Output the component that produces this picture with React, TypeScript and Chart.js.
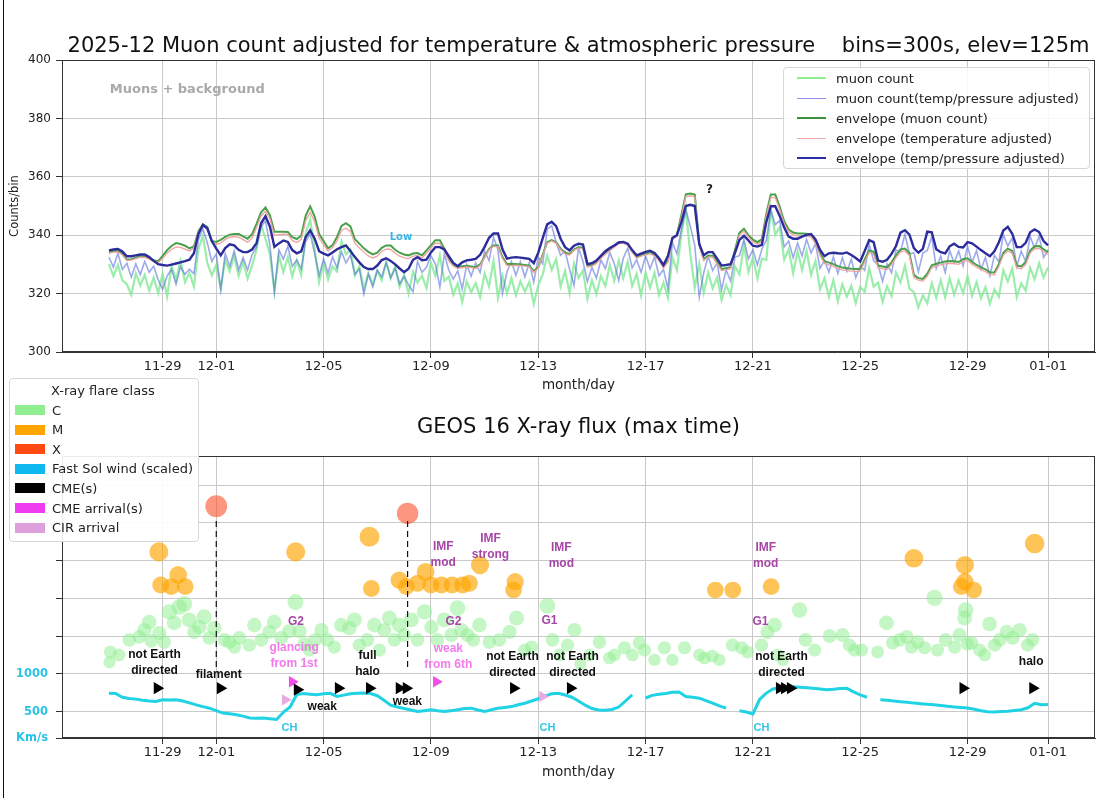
import React, { useEffect, useRef } from 'react';
import { Chart, registerables } from 'chart.js';

Chart.register(...registerables);

const SANS = "'DejaVu Sans', Verdana, sans-serif";
const ARIAL = "'Liberation Sans', Arial, sans-serif";

// Time base: all x values are days since 2025-11-27 00:00 UTC
const PERIOD_START = Date.UTC(2025, 10, 27);
const DAY_MS = 86400000;
const MUON_BIN_HOURS = 4;
const WIND_BIN_HOURS = 6;
const WIND_SCALE = 500; // km/s per flux-panel unit

const TICK_DATES = ['2025-11-29', '2025-12-01', '2025-12-05', '2025-12-09', '2025-12-13', '2025-12-17', '2025-12-21', '2025-12-25', '2025-12-29', '2026-01-01'];
const TICK_LABELS = ['11-29', '12-01', '12-05', '12-09', '12-13', '12-17', '12-21', '12-25', '12-29', '01-01'];

// ---- Muon panel (counts per 300 s bin, resampled to 4 h) ----
const MUON_RAW = [
  330.1, 326.0, 329.8, 324.5, 323.2, 319.5,
  327.0, 322.8, 326.4, 321.0, 325.5, 320.2,
  326.8, 319.0, 329.5, 324.7, 331.2, 323.9,
  327.1, 322.4, 335.2, 339.8, 330.5, 326.3,
  329.8, 322.0, 331.5, 327.6, 333.0, 326.1,
  330.9, 325.2, 329.6, 335.0, 343.6, 338.8,
  333.4, 321.0, 333.0, 327.4, 332.5, 325.8,
  331.2, 326.3, 340.8, 345.3, 335.2, 324.0,
  330.5, 324.8, 329.3, 327.6, 337.9, 333.5,
  335.1, 326.2, 329.3, 321.6, 327.0, 323.1,
  327.8, 324.5, 331.0, 325.2, 329.3, 322.4,
  326.4, 320.0, 327.5, 323.8, 326.2, 321.9,
  330.5, 326.1, 333.0, 324.3, 325.8, 319.6,
  323.5, 317.2, 324.1, 320.5, 323.6, 318.8,
  326.9, 322.4, 331.2, 318.5, 326.1, 320.0,
  325.3, 319.4, 324.2, 320.7, 324.0, 316.5,
  322.8, 326.6, 333.0, 328.1, 331.8, 322.5,
  327.8, 320.1, 330.4, 325.3, 327.9, 318.2,
  324.6, 319.8, 326.0, 322.6, 329.8, 324.4,
  331.3, 325.2, 330.9, 322.6, 326.7, 319.4,
  327.2, 322.0, 327.1, 319.5, 323.8, 318.6,
  332.5, 328.0, 340.2, 349.0, 333.5, 322.0,
  330.2, 320.3, 327.2, 321.8, 325.5, 317.8,
  322.9, 319.5, 329.3, 326.6, 336.7, 327.4,
  332.4, 325.2, 332.0, 331.5, 348.8, 340.1,
  342.8, 331.6, 335.2, 327.0, 334.5, 328.1,
  334.7, 326.4, 331.2, 321.5, 325.3, 318.9,
  324.6, 317.4, 323.2, 319.0, 322.6, 316.8,
  322.3, 320.5, 328.7, 322.4, 323.8, 317.2,
  322.5, 319.1, 327.2, 323.8, 329.6, 321.7,
  320.5, 315.3, 319.4, 316.7, 323.6, 318.5,
  324.5, 318.7, 325.3, 319.6, 324.5, 320.1,
  326.0, 319.2, 323.9, 318.4, 322.2, 316.5,
  321.4, 318.9, 328.0, 324.1, 328.6, 318.8,
  323.5, 321.0, 328.9, 324.9, 330.4, 325.5,
  329.0,
];

const MUON_ADJ = [
  332.5, 329.0, 333.8, 328.3, 330.4, 325.6,
  330.2, 326.5, 331.0, 327.3, 329.4, 324.8,
  321.5, 326.0, 328.3, 323.2, 329.2, 326.6,
  328.4, 326.8, 338.5, 342.2, 337.4, 331.0,
  333.6, 321.2, 333.7, 329.3, 334.6, 328.2,
  332.3, 328.1, 333.4, 336.0, 342.8, 344.9,
  336.5, 320.5, 335.0, 331.8, 336.2, 329.3,
  331.6, 328.5, 337.8, 340.5, 333.7, 326.2,
  331.9, 327.0, 332.6, 328.8, 334.3, 330.5,
  333.2, 326.6, 328.4, 319.9, 326.7, 322.3,
  328.1, 325.7, 330.6, 325.4, 328.7, 323.3,
  325.9, 323.0, 320.6, 331.0, 327.3, 329.0,
  333.0, 330.1, 322.2, 333.6, 328.0, 325.0,
  327.8, 321.6, 329.9, 326.0, 330.5, 327.2,
  334.6, 331.3, 339.2, 335.0, 320.0, 327.4,
  331.0, 326.2, 330.9, 325.7, 330.6, 323.9,
  332.5, 330.2, 342.0, 343.3, 337.5, 333.1,
  334.5, 328.4, 322.8, 335.7, 331.0, 324.1,
  329.0, 325.3, 331.5, 328.6, 334.1, 330.2,
  324.5, 332.0, 335.6, 328.8, 331.6, 327.3,
  332.9, 328.5, 332.6, 326.1, 328.3, 321.6,
  337.5, 333.6, 342.0, 348.7, 343.0, 336.5,
  318.8, 327.1, 332.8, 327.9, 330.5, 321.2,
  328.2, 324.3, 332.5, 333.0, 338.5, 331.9,
  335.0, 329.8, 335.2, 338.3, 348.5, 343.6,
  345.1, 336.0, 338.0, 332.3, 337.3, 332.9,
  338.6, 333.9, 337.2, 328.6, 331.4, 327.3,
  332.6, 326.9, 332.3, 327.6, 331.8, 325.5,
  329.5, 328.0, 336.9, 331.2, 329.8, 324.2,
  330.2, 327.1, 334.9, 334.3, 340.3, 333.6,
  334.1, 327.5, 333.9, 334.8, 339.6, 328.6,
  332.8, 327.3, 334.8, 330.5, 334.6, 329.5,
  336.2, 330.6, 334.7, 328.3, 332.4, 326.1,
  333.1, 330.9, 340.2, 336.3, 339.1, 329.3,
  334.5, 331.0, 339.6, 335.5, 339.7, 332.4,
  335.0,
];

const ENV_RAW = [
  334.2, 334.5, 334.7, 333.6, 331.6, 331.8,
  332.3, 332.9, 332.7, 332.2, 331.4, 331.0,
  332.9, 334.9, 336.3, 337.3, 337.0, 336.4,
  335.5, 336.2, 341.3, 343.7, 342.8, 338.0,
  337.7, 338.4, 339.4, 340.2, 340.4, 340.4,
  339.6, 338.8, 340.3, 343.9, 347.8, 349.5,
  346.8, 341.2, 341.2, 341.2, 341.1, 339.3,
  338.7, 339.8, 346.7, 349.9, 346.4, 340.4,
  338.0, 335.5, 336.6, 339.4, 343.2, 344.1,
  343.0, 338.6, 337.1, 335.5, 334.3, 333.4,
  334.0, 335.7, 336.5, 336.5, 335.0, 334.0,
  333.4, 333.1, 333.7, 333.9, 333.1, 334.8,
  336.5, 338.3, 338.3, 335.4, 332.0, 330.0,
  329.1, 329.4, 329.5, 329.3, 329.0, 330.0,
  332.6, 335.3, 336.5, 336.5, 332.5, 330.1,
  330.1, 330.1, 330.0, 329.8, 329.6, 327.7,
  329.0, 333.4, 337.6, 338.3, 337.6, 335.4,
  334.0, 333.6, 335.1, 335.9, 335.7, 329.5,
  329.8, 330.7, 332.5, 333.9, 335.1, 336.3,
  337.5, 337.7, 337.0, 334.5, 332.5, 333.2,
  333.7, 334.1, 333.3, 331.6, 329.2, 331.2,
  339.0, 340.0, 346.9, 354.0, 354.3, 353.9,
  337.0, 331.8, 333.0, 333.0, 330.7, 328.4,
  328.7, 329.0, 335.0, 340.8, 342.2, 340.0,
  338.5, 337.6, 338.6, 347.4, 353.9, 353.9,
  349.7, 344.8, 341.9, 340.9, 340.6, 340.6,
  340.5, 340.2, 337.9, 333.9, 331.1, 330.6,
  330.1, 329.4, 328.9, 328.7, 328.5, 328.4,
  328.4, 331.7, 334.8, 334.3, 329.6, 329.3,
  329.0, 330.7, 333.1, 335.1, 335.4, 333.8,
  326.4, 325.3, 325.0, 326.8, 329.7, 330.2,
  330.6, 331.0, 331.2, 331.1, 330.8, 331.8,
  332.1, 330.9, 329.8, 329.0, 328.3, 327.3,
  327.2, 330.1, 334.0, 335.4, 334.6, 329.6,
  329.3, 330.8, 334.7, 336.2, 336.3, 335.2,
  334.2,
];

const ENV_TEMP = [
  333.8, 334.2, 334.3, 333.2, 331.3, 331.5,
  332.0, 332.5, 332.4, 331.8, 331.0, 330.6,
  332.0, 333.9, 335.1, 336.0, 335.8, 335.2,
  334.6, 335.7, 341.0, 343.4, 342.5, 337.6,
  336.9, 337.3, 338.5, 339.3, 339.5, 339.3,
  338.5, 337.6, 339.0, 342.6, 346.6, 348.2,
  345.6, 339.9, 340.2, 340.4, 340.3, 338.2,
  337.5, 338.6, 345.0, 347.8, 344.6, 339.0,
  336.8, 334.6, 335.8, 338.0, 341.6, 342.4,
  341.3, 337.2, 335.6, 334.2, 332.9, 332.2,
  332.8, 334.5, 335.2, 335.1, 333.8, 332.8,
  332.2, 332.0, 332.8, 333.0, 332.2, 333.8,
  335.6, 337.3, 337.2, 334.6, 331.2, 329.4,
  328.6, 328.9, 329.1, 328.9, 328.6, 329.6,
  332.3, 335.0, 336.2, 336.1, 332.0, 329.6,
  329.6, 329.7, 329.6, 329.4, 329.2, 327.3,
  328.7, 333.1, 337.3, 338.0, 337.3, 335.0,
  333.6, 333.2, 334.8, 335.6, 335.4, 329.1,
  329.4, 330.3, 332.1, 333.5, 334.7, 335.9,
  337.1, 337.3, 336.6, 334.1, 332.1, 332.8,
  333.3, 333.7, 332.9, 331.2, 328.8, 330.8,
  338.6, 339.6, 346.3, 353.2, 353.5, 353.1,
  336.4, 331.3, 332.5, 332.5, 330.2, 327.9,
  328.2, 328.5, 334.4, 340.0, 341.4, 339.3,
  337.8, 336.9, 337.9, 346.6, 352.9, 352.9,
  348.8, 343.9, 341.1, 340.1, 339.8, 339.8,
  339.7, 339.4, 337.1, 333.1, 330.3, 329.8,
  329.3, 328.6, 328.1, 327.9, 327.7, 327.6,
  327.6, 330.9, 334.0, 333.5, 328.8, 328.5,
  328.2, 329.9, 332.3, 334.3, 334.6, 333.0,
  325.6, 324.6, 324.3, 326.0, 328.9, 329.4,
  329.8, 330.2, 330.4, 330.3, 330.0, 331.0,
  331.3, 330.1, 329.0, 328.2, 327.5, 326.5,
  326.4, 329.3, 333.2, 334.6, 333.8, 328.8,
  328.5, 330.0, 333.9, 335.4, 335.5, 334.4,
  333.4,
];

const ENV_TP = [
  334.8, 335.1, 335.3, 334.4, 332.8, 332.8,
  333.1, 333.4, 333.4, 332.5, 331.2, 330.1,
  329.8, 329.6, 329.9, 330.3, 330.7, 331.1,
  331.6, 333.8, 340.4, 343.5, 342.3, 338.0,
  335.4, 333.1, 335.6, 336.9, 336.5, 335.0,
  334.2, 334.2, 335.1, 337.3, 344.0, 346.5,
  342.9, 336.0, 337.2, 338.2, 337.7, 334.9,
  333.8, 334.5, 339.4, 341.7, 338.8, 334.5,
  333.7, 333.1, 334.1, 335.2, 335.9, 336.5,
  334.6, 332.5, 330.7, 329.1, 328.4, 328.4,
  329.6, 331.5, 332.1, 331.2, 330.0, 328.6,
  327.3, 328.5, 331.6, 332.5, 331.4, 331.6,
  334.1, 335.9, 335.9, 335.1, 332.8, 330.5,
  329.4, 330.7, 331.4, 331.6, 331.9, 333.3,
  336.0, 339.1, 340.6, 340.6, 335.2, 332.0,
  332.3, 332.5, 332.3, 332.1, 331.9, 330.4,
  334.0, 339.0, 343.7, 344.6, 343.1, 338.8,
  335.9, 334.8, 336.4, 337.1, 336.8, 330.1,
  330.4, 331.3, 332.9, 334.5, 335.6, 336.5,
  337.5, 337.7, 337.1, 334.9, 333.1, 333.7,
  334.3, 334.7, 333.9, 332.1, 329.8, 332.9,
  339.0, 340.0, 344.5, 350.0, 350.4, 350.0,
  337.0, 333.1, 334.2, 334.2, 332.0, 329.6,
  329.8, 330.1, 334.0, 338.4, 339.8, 338.2,
  336.4, 336.1, 336.7, 344.5, 349.9, 349.9,
  346.6, 342.6, 339.5, 338.8, 338.8, 339.5,
  340.1, 340.4, 338.6, 335.0, 332.8, 333.8,
  334.0, 333.8, 333.7, 334.1, 333.2, 332.2,
  331.0, 334.6, 338.3, 337.6, 331.3, 330.9,
  331.6, 333.6, 336.3, 340.9, 341.7, 340.2,
  335.6, 334.0, 335.3, 341.2, 341.0, 335.2,
  334.2, 333.8, 336.2, 337.1, 336.0, 335.8,
  337.6, 337.2, 336.1, 334.9, 333.8, 332.8,
  334.5, 337.6, 341.6, 342.9, 340.5, 335.9,
  335.9, 337.4, 341.0, 342.0, 341.1, 338.0,
  336.5,
];

// ---- Solar panel ----
// Solar wind speed, km/s, 6 h bins (null = data gap)
const WIND_KMS = [
  744, 740, 690, 672,
  665, 650, 640, 635,
  655, 652, 655, 640,
  615, 588, 565, 545,
  512, 480, 470, 458,
  440, 415, 412, 414,
  405, 395, 490, 560,
  725, 740, 730, 722,
  735, 742, 700, 718,
  735, 743, 745, 740,
  710, 650, 585, 560,
  540, 520, 500, 512,
  523, 510, 500, 512,
  525, 540, 545, 520,
  500, 525, 545, 555,
  566, 590, 611, 640,
  670, 705, 735, 742,
  720, 690, 640, 585,
  540, 520, 518, 528,
  560, 640, 720, null,
  680, 715, 730, 740,
  755, 760, 700, 690,
  677, 645, 612, 575,
  545, null, 510, 495,
  470, 660, 745, 800,
  815, 825, 830, 822,
  815, 808, 800, 790,
  795, 805, 808, 760,
  720, 690, null, 655,
  650, 640, 630, 622,
  612, 605, 596, 589,
  580, 570, 562, 555,
  546, 530, 510, 498,
  495, 500, 505, 515,
  525, 550, 610, 590,
  595,
];

// Flares: [day, peak flux level on the panel's axis]
const C_FLARES = [
  [0.05, 2.58], [0.02, 2.31], [0.38, 2.50], [0.76, 2.90], [1.13, 2.98], [1.32, 3.16], [1.50, 3.37], [1.58, 2.87],
  [1.88, 3.08], [2.06, 2.84], [2.25, 3.64], [2.43, 3.35], [2.62, 3.77], [2.81, 3.85], [2.99, 3.43], [3.18, 3.11],
  [3.37, 3.24], [3.55, 3.51], [3.74, 2.95], [3.93, 3.21], [4.30, 2.90], [4.49, 2.84], [4.68, 2.71], [4.86, 2.95],
  [5.23, 2.76], [5.42, 3.29], [5.68, 2.90], [5.98, 3.11], [6.16, 3.37], [6.42, 2.95], [6.72, 3.13], [6.95, 3.90],
  [7.10, 3.13], [7.28, 2.79], [7.47, 2.63], [7.69, 2.90], [7.92, 3.16], [8.14, 2.90], [8.40, 2.71], [8.66, 3.29],
  [8.96, 3.21], [9.15, 3.43], [9.33, 2.76], [9.63, 2.90], [9.89, 3.29], [10.08, 2.63], [10.26, 3.16], [10.45, 3.48],
  [10.64, 2.90], [10.82, 3.29], [11.01, 3.03], [11.27, 3.43], [11.50, 2.90], [11.76, 3.64], [12.02, 3.24], [12.24, 2.90],
  [12.50, 3.43], [12.76, 3.03], [12.99, 3.74], [13.14, 3.16], [13.36, 3.03], [13.58, 2.90], [13.81, 3.29], [14.18, 2.84],
  [14.55, 2.90], [14.93, 3.11], [15.19, 3.48], [15.49, 2.63], [15.75, 2.71], [16.34, 3.80], [16.53, 2.90], [16.79, 2.50],
  [17.09, 2.76], [17.35, 3.16], [17.57, 2.26], [17.91, 2.50], [18.28, 2.84], [18.65, 2.42], [18.84, 2.50], [19.21, 2.69],
  [19.51, 2.50], [19.77, 2.82], [19.96, 2.63], [20.33, 2.37], [20.70, 2.69], [21.00, 2.37], [21.45, 2.69], [22.01, 2.50],
  [22.20, 2.42], [22.49, 2.47], [22.75, 2.37], [23.24, 2.76], [23.58, 2.69], [23.80, 2.58], [24.32, 2.76], [24.54, 3.11],
  [24.81, 3.29], [24.92, 2.50], [25.11, 2.37], [25.74, 3.69], [25.96, 2.90], [26.30, 2.63], [26.86, 3.00], [27.34, 3.03],
  [27.60, 2.76], [27.79, 2.63], [28.05, 2.63], [28.65, 2.58], [28.98, 3.35], [29.21, 2.82], [29.47, 2.90], [29.73, 2.98],
  [29.91, 2.71], [30.14, 2.84], [30.40, 2.69], [30.77, 4.01], [30.88, 2.63], [31.18, 2.90], [31.52, 2.71], [31.70, 3.03],
  [31.89, 3.48], [31.93, 3.69], [32.00, 2.79], [32.15, 2.82], [32.45, 2.63], [32.64, 2.50], [32.82, 3.32], [33.01, 2.76],
  [33.20, 2.90], [33.46, 3.11], [33.68, 2.95], [33.94, 3.16], [34.24, 2.76], [34.42, 2.90],
];

const M_FLARES = [
  [1.86, 5.23], [1.93, 4.35], [2.32, 4.31], [2.58, 4.62], [2.84, 4.31], [6.96, 5.23], [9.71, 5.63], [9.78, 4.26],
  [10.82, 4.48], [11.08, 4.31], [11.50, 4.40], [11.80, 4.70], [12.00, 4.35], [12.39, 4.35], [12.79, 4.35], [13.18, 4.35],
  [13.43, 4.40], [13.83, 4.88], [15.08, 4.22], [15.14, 4.44], [22.60, 4.22], [23.25, 4.22], [24.68, 4.31], [30.00, 5.06],
  [31.77, 4.31], [31.90, 4.44], [31.90, 4.88], [32.23, 4.22], [34.50, 5.45],
];

const X_FLARES = [[4.00, 6.44], [11.13, 6.25]];

// CME launches, arrivals and CIR arrivals: [day, marker row]
const CMES = [
  [1.80, 1.62], [4.15, 1.62], [7.02, 1.58], [8.55, 1.62], [9.71, 1.62], [10.82, 1.62], [11.08, 1.62],
  [15.08, 1.62], [17.20, 1.62], [24.99, 1.62], [25.18, 1.62], [25.40, 1.62], [31.83, 1.62], [34.43, 1.62],
];
const CME_ARRIVALS = [[6.83, 1.79], [12.20, 1.79]];
const CIR_ARRIVALS = [[6.57, 1.31], [16.16, 1.40]];

const FLUX_AXIS_MIN = 0.3;
const FLUX_AXIS_MAX = 7.77;

type Note = { t: number; v: number; text: string; font: string; color: string; align?: CanvasTextAlign };

const BLACK_FONT = `bold 12px ${ARIAL}`;
const TOP_NOTES: Note[] = [
  { t: 0.03, v: 389.8, text: 'Muons + background', font: `bold 13px ${SANS}`, color: '#a9a9a9', align: 'left' },
  { t: 10.88, v: 339.4, text: 'Low', font: `bold 10px ${SANS}`, color: '#38b6e6' },
  { t: 22.38, v: 355.6, text: '?', font: `bold 12px ${SANS}`, color: '#222' },
];

const SOLAR_NOTES: Note[] = [
  { t: 1.70, v: 2.29, text: 'not Earth\ndirected', font: BLACK_FONT, color: '#111' },
  { t: 4.09, v: 1.97, text: 'filament', font: BLACK_FONT, color: '#111' },
  { t: 9.64, v: 2.26, text: 'full\nhalo', font: BLACK_FONT, color: '#111' },
  { t: 7.95, v: 1.13, text: 'weak', font: BLACK_FONT, color: '#111' },
  { t: 11.12, v: 1.26, text: 'weak', font: BLACK_FONT, color: '#111' },
  { t: 15.04, v: 2.24, text: 'not Earth\ndirected', font: BLACK_FONT, color: '#111' },
  { t: 17.28, v: 2.24, text: 'not Earth\ndirected', font: BLACK_FONT, color: '#111' },
  { t: 25.07, v: 2.24, text: 'not Earth\ndirected', font: BLACK_FONT, color: '#111' },
  { t: 34.37, v: 2.31, text: 'halo', font: BLACK_FONT, color: '#111' },
  { t: 6.90, v: 2.47, text: 'glancing\nfrom 1st', font: BLACK_FONT, color: '#f27aea' },
  { t: 12.65, v: 2.46, text: 'weak\nfrom 6th', font: BLACK_FONT, color: '#f27aea' },
  { t: 6.97, v: 3.38, text: 'G2', font: BLACK_FONT, color: '#a646a6' },
  { t: 12.84, v: 3.38, text: 'G2', font: BLACK_FONT, color: '#a646a6' },
  { t: 16.42, v: 3.40, text: 'G1', font: BLACK_FONT, color: '#a646a6' },
  { t: 24.28, v: 3.38, text: 'G1', font: BLACK_FONT, color: '#a646a6' },
  { t: 12.46, v: 5.15, text: 'IMF\nmod', font: BLACK_FONT, color: '#a646a6' },
  { t: 14.22, v: 5.38, text: 'IMF\nstrong', font: BLACK_FONT, color: '#a646a6' },
  { t: 16.86, v: 5.12, text: 'IMF\nmod', font: BLACK_FONT, color: '#a646a6' },
  { t: 24.48, v: 5.12, text: 'IMF\nmod', font: BLACK_FONT, color: '#a646a6' },
  { t: 6.73, v: 0.57, text: 'CH', font: `bold 11px ${ARIAL}`, color: '#2ec8e8' },
  { t: 16.34, v: 0.57, text: 'CH', font: `bold 11px ${ARIAL}`, color: '#2ec8e8' },
  { t: 24.32, v: 0.57, text: 'CH', font: `bold 11px ${ARIAL}`, color: '#2ec8e8' },
];

const MUON_STYLE = {
  raw: { label: 'muon count', line: 'rgba(130,232,150,0.8)', key: '#90ee90', width: 2.2 },
  adj: { label: 'muon count(temp/pressure adjusted)', line: 'rgba(75,100,215,0.55)', key: '#8f8fe6', width: 1.6 },
  envRaw: { label: 'envelope (muon count)', line: '#48a048', key: '#3d8f3d', width: 2 },
  envTemp: { label: 'envelope (temperature adjusted)', line: '#f0a2a2', key: '#f0a8a8', width: 1.3 },
  envTP: { label: 'envelope (temp/pressure adjusted)', line: '#2c2c9c', key: '#2c2ca8', width: 2.4 },
};
const MUON_LEGEND = [MUON_STYLE.raw, MUON_STYLE.adj, MUON_STYLE.envRaw, MUON_STYLE.envTemp, MUON_STYLE.envTP];

const SOLAR_LEGEND = [
  { label: 'C', color: '#90ee90' },
  { label: 'M', color: '#ffa500' },
  { label: 'X', color: '#ff4a12' },
  { label: 'Fast Sol wind (scaled)', color: '#0fb9ef' },
  { label: 'CME(s)', color: '#000000' },
  { label: 'CME arrival(s)', color: '#f03cf0' },
  { label: 'CIR arrival', color: '#dda0dd' },
];

const dayOf = (iso: string) => (Date.parse(iso + 'T00:00:00Z') - PERIOD_START) / DAY_MS;

const binned = (vals: (number | null)[], hours: number, per = 1) =>
  vals.map((v, i) => ({ x: (i * hours) / 24, y: v == null ? null : v / per }));

const pairs = (list: number[][]) => list.map(([t, v]) => ({ x: t, y: v }));

const GRID = { color: '#c9c9c9', lineWidth: 1, tickColor: '#333', tickLength: 6 };
const BORDER = { color: '#333', width: 1 };

function timeAxis(height: number, titlePad: number) {
  return {
    type: 'linear',
    min: -1.75,
    max: 36.75,
    afterBuildTicks: (s: any) => {
      s.ticks = TICK_DATES.map((d) => ({ value: dayOf(d) }));
    },
    afterFit: (s: any) => {
      s.height = height;
    },
    ticks: {
      autoSkip: false,
      maxRotation: 0,
      padding: 1,
      color: '#222',
      font: { family: SANS, size: 13 },
      callback: (_v: any, i: number) => TICK_LABELS[i],
    },
    grid: GRID,
    border: BORDER,
    title: {
      display: true,
      text: 'month/day',
      color: '#222',
      font: { family: SANS, size: 13.5 },
      padding: { top: 0, bottom: titlePad },
    },
  };
}

function framePlugin(title: string, baseline: number) {
  return {
    id: 'frameTitle',
    afterDraw(chart: any) {
      const { ctx, chartArea: a } = chart;
      ctx.save();
      ctx.strokeStyle = '#333';
      ctx.lineWidth = 1;
      ctx.strokeRect(a.left + 0.5, a.top + 0.5, a.right - a.left - 1, a.bottom - a.top - 1);
      ctx.fillStyle = '#111';
      ctx.font = `21px ${SANS}`;
      ctx.textAlign = 'center';
      ctx.textBaseline = 'alphabetic';
      ctx.fillText(title, (a.left + a.right) / 2, baseline);
      ctx.restore();
    },
  };
}

function notesPlugin(notes: Note[]) {
  return {
    id: 'notes',
    afterDatasetsDraw(chart: any) {
      const { ctx, scales } = chart;
      ctx.save();
      ctx.textBaseline = 'middle';
      for (const n of notes) {
        const px = scales.x.getPixelForValue(n.t);
        const py = scales.y.getPixelForValue(n.v);
        ctx.font = n.font;
        ctx.fillStyle = n.color;
        ctx.textAlign = n.align || 'center';
        const lines = n.text.split('\n');
        lines.forEach((ln, i) => ctx.fillText(ln, px, py + (i - (lines.length - 1) / 2) * 16));
      }
      ctx.restore();
    },
  };
}

const COMMON = {
  responsive: false,
  maintainAspectRatio: false,
  animation: false,
  devicePixelRatio: 1,
  events: [],
};

function muonConfig(): any {
  const line = (style: any, vals: number[], order: number) => ({
    label: style.label,
    data: binned(vals, MUON_BIN_HOURS),
    borderColor: style.line,
    borderWidth: style.width,
    pointRadius: 0,
    tension: 0,
    fill: false,
    order,
  });
  return {
    type: 'line',
    data: {
      datasets: [
        line(MUON_STYLE.envTP, ENV_TP, 1),
        line(MUON_STYLE.envTemp, ENV_TEMP, 2),
        line(MUON_STYLE.envRaw, ENV_RAW, 3),
        line(MUON_STYLE.adj, MUON_ADJ, 4),
        line(MUON_STYLE.raw, MUON_RAW, 5),
      ],
    },
    options: {
      ...COMMON,
      layout: { autoPadding: false, padding: { top: 60, right: 2, left: 0, bottom: 0 } },
      plugins: { legend: { display: false }, tooltip: { enabled: false } },
      scales: {
        x: timeAxis(48, 6.5),
        y: {
          min: 300,
          max: 400,
          afterFit: (s: any) => {
            s.width = 62;
          },
          ticks: { stepSize: 20, padding: 5, color: '#222', font: { family: SANS, size: 12 } },
          grid: GRID,
          border: BORDER,
          title: { display: true, text: 'Counts/bin', color: '#222', font: { family: SANS, size: 11.5 }, padding: { top: 8, bottom: 0 } },
        },
      },
    },
    plugins: [
      framePlugin('2025-12 Muon count adjusted for temperature & atmospheric pressure    bins=300s, elev=125m', 51.7),
      notesPlugin(TOP_NOTES),
    ],
  };
}

// Marker size grows with flare flux level
const flareRadius = (ctx: any) => 3.5 + 1.15 * (ctx.raw ? ctx.raw.y : 3);

function solarConfig(): any {
  const dashed = X_FLARES.map(([t]) => ({
    type: 'line',
    data: [
      { x: t, y: 6.05 },
      { x: t, y: 2.15 },
    ],
    borderColor: '#111',
    borderWidth: 1.2,
    borderDash: [6, 4],
    pointRadius: 0,
    showLine: true,
    fill: false,
    order: 2,
  }));
  const marks = (data: number[][], color: string, radius: number, order: number) => ({
    type: 'scatter',
    data: pairs(data),
    pointStyle: 'triangle',
    rotation: 90,
    pointRadius: radius,
    backgroundColor: color,
    borderWidth: 0,
    order,
  });
  const flares = (data: number[][], color: string, order: number) => ({
    type: 'scatter',
    data: pairs(data),
    pointRadius: flareRadius,
    backgroundColor: color,
    borderWidth: 0,
    order,
  });
  return {
    type: 'scatter',
    data: {
      datasets: [
        marks(CMES, '#000', 7, 0),
        marks(CME_ARRIVALS, '#ef4fe8', 6.5, 0),
        marks(CIR_ARRIVALS, '#e9a9e3', 6.5, 0),
        ...dashed,
        {
          type: 'line',
          label: 'Fast Sol wind (scaled)',
          data: binned(WIND_KMS, WIND_BIN_HOURS, WIND_SCALE),
          borderColor: '#1fd2e4',
          borderWidth: 3,
          pointRadius: 0,
          showLine: true,
          spanGaps: false,
          fill: false,
          tension: 0,
          order: 3,
        },
        flares(X_FLARES, 'rgba(250,80,40,0.6)', 4),
        flares(M_FLARES, 'rgba(255,165,0,0.66)', 5),
        flares(C_FLARES, 'rgba(144,238,144,0.52)', 6),
      ],
    },
    options: {
      ...COMMON,
      layout: { autoPadding: false, padding: { top: 56, right: 2, left: 0, bottom: 0 } },
      plugins: { legend: { display: false }, tooltip: { enabled: false } },
      scales: {
        x: timeAxis(60, 17.5),
        y: {
          type: 'linear',
          min: FLUX_AXIS_MIN,
          max: FLUX_AXIS_MAX,
          afterBuildTicks: (s: any) => {
            s.ticks = [FLUX_AXIS_MIN, 1, 2, 3, 4, 5, 6, 7].map((value) => ({ value }));
          },
          afterFit: (s: any) => {
            s.width = 62;
          },
          ticks: {
            padding: 8,
            color: '#2cc2e6',
            font: { family: SANS, size: 11.5, weight: 'bold' },
            callback: (v: number) => (v === FLUX_AXIS_MIN ? 'Km/s' : v <= 2 ? String(v * WIND_SCALE) : ''),
          },
          grid: GRID,
          border: BORDER,
        },
      },
    },
    plugins: [framePlugin('GEOS 16 X-ray flux (max time)', 33), notesPlugin(SOLAR_NOTES)],
  };
}

export default function App() {
  const muonRef = useRef<HTMLCanvasElement>(null);
  const solarRef = useRef<HTMLCanvasElement>(null);

  useEffect(() => {
    const muon = new Chart(muonRef.current as HTMLCanvasElement, muonConfig());
    const solar = new Chart(solarRef.current as HTMLCanvasElement, solarConfig());
    return () => {
      muon.destroy();
      solar.destroy();
    };
  }, []);

  return (
    <div style={{ position: 'fixed', left: 0, top: 0, width: 1097, height: 798, background: '#fff', overflow: 'hidden' }}>
      <div style={{ position: 'absolute', left: 3, top: 0, width: 1, height: 798, background: '#111' }} />
      <canvas ref={muonRef} width={1097} height={400} style={{ position: 'absolute', left: 0, top: 0, display: 'block' }} />
      <canvas ref={solarRef} width={1097} height={398} style={{ position: 'absolute', left: 0, top: 400, display: 'block' }} />

      <div
        style={{
          position: 'absolute', left: 783, top: 67, width: 305, height: 100,
          border: '1px solid #d6d6d6', borderRadius: 4, background: 'rgba(255,255,255,0.85)',
          fontFamily: SANS, fontSize: 13, color: '#222',
        }}
      >
        {MUON_LEGEND.map((e, i) => (
          <div key={e.label} style={{ position: 'absolute', left: 13, top: i * 20, height: 20, display: 'flex', alignItems: 'center', whiteSpace: 'nowrap' }}>
            <span style={{ display: 'inline-block', width: 29, borderTop: `${Math.max(1.5, e.width)}px solid ${e.key}`, marginRight: 10 }} />
            <span>{e.label}</span>
          </div>
        ))}
      </div>

      <div
        style={{
          position: 'absolute', left: 9, top: 378, width: 188, height: 162,
          border: '1px solid #d6d6d6', borderRadius: 4, background: 'rgba(255,255,255,0.9)',
          fontFamily: SANS, fontSize: 13, color: '#222',
        }}
      >
        <div style={{ position: 'absolute', left: 41, top: 2, height: 20, lineHeight: '20px', whiteSpace: 'nowrap' }}>X-ray flare class</div>
        {SOLAR_LEGEND.map((e, i) => (
          <div key={e.label} style={{ position: 'absolute', left: 5, top: 21 + i * 19.6, height: 20, display: 'flex', alignItems: 'center', whiteSpace: 'nowrap' }}>
            <span style={{ display: 'inline-block', width: 30, height: 10, background: e.color, marginRight: 7 }} />
            <span>{e.label}</span>
          </div>
        ))}
      </div>
    </div>
  );
}
